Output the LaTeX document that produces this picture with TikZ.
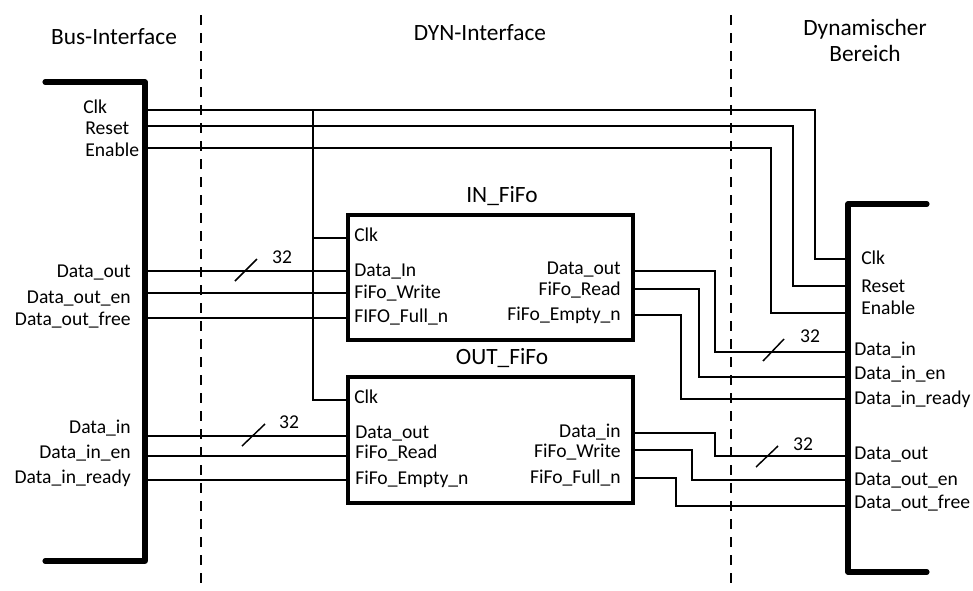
\documentclass[tikz,border=0pt]{standalone}
\usepackage{fontspec}
\setmainfont{Carlito}
\begin{document}
\begin{tikzpicture}[x=0.75pt,y=-0.75pt,
  wire/.style={line width=1.1pt},
  bar/.style={line width=3.8pt, line cap=round, line join=round},
  fifobox/.style={draw, line width=3pt, minimum width=213.75pt, minimum height=94pt, inner sep=0pt},
  lbl/.style={font=\fontsize{14.7}{16}\selectfont, inner sep=0pt, text height=0.7em, text depth=0.2em, yshift=-1.8pt},
  ttl/.style={font=\fontsize{17.5}{19.5}\selectfont, inner sep=0pt},
  sep/.style={line width=0.9pt, dash pattern=on 7.5pt off 6pt},
  busmark/.style={line width=1.1pt}]
\useasboundingbox (0,0) rectangle (973,590);

% headers
\node[ttl] (hbus) at (114,37) {Bus-Interface};
\node[ttl] (hdyn) at (480,33) {DYN-Interface};
\node[ttl, align=center] (hdb) at (865,40) {Dynamischer\\Bereich};

% separators
\draw[sep] (201,15) -- (201,590);
\draw[sep] (731,15) -- (731,590);

% bus bars
\draw[bar] (45,82) -- (145,82) -- (145,561) -- (45,561);
\draw[bar] (927,204) -- (848,204) -- (848,572) -- (927,572);

% FIFO boxes
\node[fifobox] (inbox) at (490.5,277.5) {};
\node[fifobox] (outbox) at (490.5,440) {};
\node[ttl] (intitle) at (502,196) {IN\_FiFo};
\node[ttl] (outtitle) at (502,358) {OUT\_FiFo};

% ports: left bar
\coordinate (bClk) at (145,110);
\coordinate (bRst) at (145,126);
\coordinate (bEn) at (145,148);
\coordinate (bDo) at (145,271);
\coordinate (bDoe) at (145,293);
\coordinate (bDof) at (145,318);
\coordinate (bDi) at (145,436);
\coordinate (bDie) at (145,456);
\coordinate (bDir) at (145,480);
% ports: right bar
\coordinate (rClk) at (848,259);
\coordinate (rRst) at (848,286);
\coordinate (rEn) at (848,313);
\coordinate (rDi) at (848,352);
\coordinate (rDie) at (848,377);
\coordinate (rDir) at (848,399);
\coordinate (rDo) at (848,456);
\coordinate (rDoe) at (848,480);
\coordinate (rDof) at (848,506);
% ports: IN_FiFo
\coordinate (iClk) at (348,238);
\coordinate (iDi) at (348,271);
\coordinate (iW) at (348,293);
\coordinate (iF) at (348,318);
\coordinate (iDo) at (633,271);
\coordinate (iR) at (633,289);
\coordinate (iE) at (633,315);
% ports: OUT_FiFo
\coordinate (oClk) at (348,400);
\coordinate (oDo) at (348,436);
\coordinate (oR) at (348,456);
\coordinate (oE) at (348,480);
\coordinate (oDi) at (633,433);
\coordinate (oW) at (633,450);
\coordinate (oF) at (633,478);
\coordinate (clkT) at (313,110);
\coordinate (clkM) at (313,238);

% control wires
\draw[wire] (bClk) -| (815,259) -- (rClk);
\draw[wire] (bRst) -| (793,286) -- (rRst);
\draw[wire] (bEn) -| (771,313) -- (rEn);
\draw[wire] (clkT) |- (oClk);
\draw[wire] (clkM) -- (iClk);

% left data wires
\draw[wire] (bDo) -- (iDi);
\draw[wire] (bDoe) -- (iW);
\draw[wire] (bDof) -- (iF);
\draw[wire] (bDi) -- (oDo);
\draw[wire] (bDie) -- (oR);
\draw[wire] (bDir) -- (oE);

% right data wires
\draw[wire] (iDo) -| (715,352) -- (rDi);
\draw[wire] (iR) -| (699,377) -- (rDie);
\draw[wire] (iE) -| (681,399) -- (rDir);
\draw[wire] (oDi) -| (715,456) -- (rDo);
\draw[wire] (oW) -| (692,480) -- (rDoe);
\draw[wire] (oF) -| (676,506) -- (rDof);

% bus width marks
\draw[busmark] (235,281) -- (257,259);
\node[lbl] (w1) at (282,258) {32};
\draw[busmark] (242,446) -- (265,424);
\node[lbl] (w2) at (289,423) {32};
\draw[busmark] (763,361) -- (784,339);
\node[lbl] (w3) at (810,337) {32};
\draw[busmark] (756,467) -- (778,446);
\node[lbl] (w4) at (803,445) {32};

% left bar labels
\node[lbl, anchor=west] (lClk) at (83,108) {Clk};
\node[lbl, anchor=west] (lRst) at (85,129) {Reset};
\node[lbl, anchor=west] (lEn) at (85,151) {Enable};
\node[lbl, anchor=east] (lDo) at (131,272) {Data\_out};
\node[lbl, anchor=east] (lDoe) at (131,298) {Data\_out\_en};
\node[lbl, anchor=east] (lDof) at (131,320) {Data\_out\_free};
\node[lbl, anchor=east] (lDi) at (131,428) {Data\_in};
\node[lbl, anchor=east] (lDie) at (131,453) {Data\_in\_en};
\node[lbl, anchor=east] (lDir) at (131,478) {Data\_in\_ready};

% IN_FiFo labels
\node[lbl, anchor=west] (iClkL) at (354,236) {Clk};
\node[lbl, anchor=west] (iDiL) at (354,271) {Data\_In};
\node[lbl, anchor=west] (iWL) at (354,293) {FiFo\_Write};
\node[lbl, anchor=west] (iFL) at (354,317) {FIFO\_Full\_n};
\node[lbl, anchor=east] (iDoL) at (621,269) {Data\_out};
\node[lbl, anchor=east] (iRL) at (621,290) {FiFo\_Read};
\node[lbl, anchor=east] (iEL) at (621,315) {FiFo\_Empty\_n};

% OUT_FiFo labels
\node[lbl, anchor=west] (oClkL) at (354,398) {Clk};
\node[lbl, anchor=west] (oDoL) at (355,433) {Data\_out};
\node[lbl, anchor=west] (oRL) at (355,453) {FiFo\_Read};
\node[lbl, anchor=west] (oEL) at (355,479) {FiFo\_Empty\_n};
\node[lbl, anchor=east] (oDiL) at (621,432) {Data\_in};
\node[lbl, anchor=east] (oWL) at (621,452) {FiFo\_Write};
\node[lbl, anchor=east] (oFL) at (621,478) {FiFo\_Full\_n};

% right bar labels
\node[lbl, anchor=west] (rClkL) at (861,259) {Clk};
\node[lbl, anchor=west] (rRstL) at (861,287) {Reset};
\node[lbl, anchor=west] (rEnL) at (861,309) {Enable};
\node[lbl, anchor=west] (rDiL) at (854,350) {Data\_in};
\node[lbl, anchor=west] (rDieL) at (854,374) {Data\_in\_en};
\node[lbl, anchor=west] (rDirL) at (854,399) {Data\_in\_ready};
\node[lbl, anchor=west] (rDoL) at (854,454) {Data\_out};
\node[lbl, anchor=west] (rDoeL) at (854,480) {Data\_out\_en};
\node[lbl, anchor=west] (rDofL) at (854,503) {Data\_out\_free};
\end{tikzpicture}
\end{document}
